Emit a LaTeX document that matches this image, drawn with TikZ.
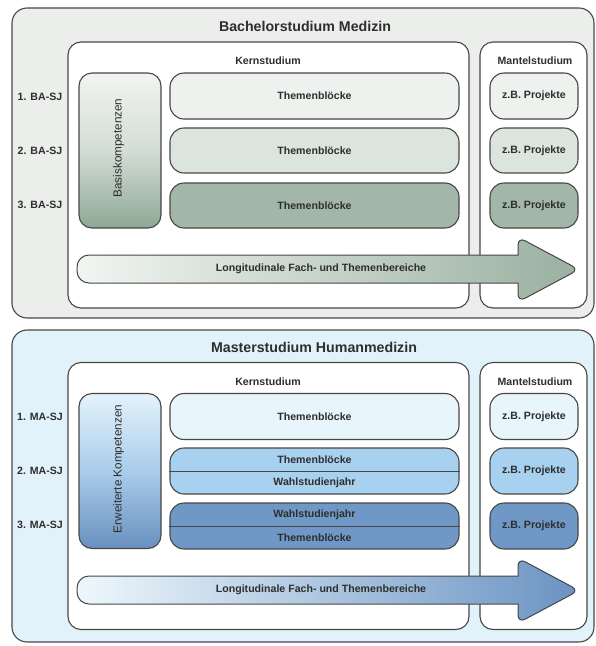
\documentclass[tikz,border=0pt]{standalone}
\usepackage{fontspec}
\setmainfont{Liberation Sans}
\definecolor{bordercol}{HTML}{474747}
\definecolor{txtcol}{HTML}{2E2E2E}
\definecolor{outerG}{HTML}{EBEEEB}
\definecolor{gA}{HTML}{EEF2EF}
\definecolor{gB}{HTML}{DCE5DD}
\definecolor{gC}{HTML}{A2B7A7}
\definecolor{gTop}{HTML}{F2F4F2}
\definecolor{gMid}{HTML}{D3DDD5}
\definecolor{gBot}{HTML}{8EA794}
\definecolor{gArrL}{HTML}{F2F5F2}
\definecolor{gArrM}{HTML}{BCCBBF}
\definecolor{gArrR}{HTML}{9AB0A0}
\definecolor{outerB}{HTML}{E2F2FB}
\definecolor{bA}{HTML}{E9F5FC}
\definecolor{bB}{HTML}{A8D1EF}
\definecolor{bC}{HTML}{6F98C6}
\definecolor{bTop}{HTML}{E4F2FB}
\definecolor{bMid}{HTML}{A9CDEA}
\definecolor{bBot}{HTML}{6990BF}
\definecolor{bArrL}{HTML}{EEF7FC}
\definecolor{bArrM}{HTML}{8DB5DC}
\definecolor{bArrR}{HTML}{6A93C2}
\tikzset{
  box/.style={draw=bordercol, line width=1.1pt, rounded corners=#1, inner sep=0pt},
  box/.default=13pt,
  lbl/.style={text=txtcol, font=\bfseries\fontsize{10.6}{12}\selectfont, inner sep=0pt},
  vlbl/.style={text=txtcol, font=\fontsize{11.7}{13}\selectfont, inner sep=0pt, rotate=90},
  ttl/.style={text=txtcol, font=\bfseries\fontsize{14.2}{16}\selectfont, inner sep=0pt},
  arrowline/.style={draw=bordercol, line width=1pt},
}
\begin{document}
\begin{tikzpicture}[x=1pt,y=-1pt]
\useasboundingbox (0,0) rectangle (596,646);

% ===================== Bachelor =====================
\node[box=15pt, fill=outerG, minimum width=582pt, minimum height=310pt] (bouter) at (303,163) {};
\node[ttl] (btitle) at (305,26) {Bachelorstudium Medizin};
\node[box=13pt, fill=white, minimum width=401pt, minimum height=266pt] (bkern) at (268.5,175) {};
\node[box=13pt, fill=white, minimum width=107pt, minimum height=266pt] (bmantel) at (533.5,175) {};
\node[lbl] (bkernl) at (268,61) {Kernstudium};
\node[lbl] (bmantell) at (535,61) {Mantelstudium};

\node[box, top color=gTop, bottom color=gBot, middle color=gMid, minimum width=82pt, minimum height=155pt] (bbasis) at (120,150.5) {};
\node[vlbl] (bbasist) at (118.5,148) {Basiskompetenzen};

\node[box=14pt, fill=gA, minimum width=289pt, minimum height=46pt] (brow1) at (314.5,96) {};
\node[box=14pt, fill=gB, minimum width=289pt, minimum height=45pt] (brow2) at (314.5,150.5) {};
\node[box=14pt, fill=gC, minimum width=289pt, minimum height=45pt] (brow3) at (314.5,205.5) {};
\node[lbl] (brow1t) at (brow1.center) {Themenblöcke};
\node[lbl] (brow2t) at (brow2.center) {Themenblöcke};
\node[lbl] (brow3t) at (brow3.center) {Themenblöcke};

\node[box=14pt, fill=gA, minimum width=88pt, minimum height=46pt] (bproj1) at (534,96) {};
\node[box=14pt, fill=gB, minimum width=88pt, minimum height=45pt] (bproj2) at (534,150.5) {};
\node[box=14pt, fill=gC, minimum width=88pt, minimum height=45pt] (bproj3) at (534,205.5) {};
\node[lbl] (bproj1t) at (bproj1.center) {z.B. Projekte};
\node[lbl] (bproj2t) at (bproj2.center) {z.B. Projekte};
\node[lbl] (bproj3t) at (bproj3.center) {z.B. Projekte};

\node[lbl] (bsj1) at (40,97) {1. BA-SJ};
\node[lbl] (bsj2) at (40,151) {2. BA-SJ};
\node[lbl] (bsj3) at (40,205) {3. BA-SJ};

\path[arrowline, left color=gArrL, middle color=gArrM, right color=gArrR]
  (300,255) [sharp corners] -- (518,255)
  [rounded corners=8pt] -- (518,237) -- (579,269.5) -- (518,302)
  [sharp corners] -- (518,283)
  [rounded corners=12pt] -- (77,283) -- (77,255)
  [sharp corners] -- cycle;
\node[lbl] (barrowt) at (321,269) {Longitudinale Fach- und Themenbereiche};

% ===================== Master =====================
\node[box=15pt, fill=outerB, minimum width=582pt, minimum height=312pt] (mouter) at (303,486) {};
\node[ttl] (mtitle) at (314,347) {Masterstudium Humanmedizin};
\node[box=13pt, fill=white, minimum width=401pt, minimum height=267pt] (mkern) at (268.5,496) {};
\node[box=13pt, fill=white, minimum width=107pt, minimum height=267pt] (mmantel) at (533.5,496) {};
\node[lbl] (mkernl) at (268,382) {Kernstudium};
\node[lbl] (mmantell) at (535,382) {Mantelstudium};

\node[box, top color=bTop, bottom color=bBot, middle color=bMid, minimum width=82pt, minimum height=155pt] (mbasis) at (120,471) {};
\node[vlbl] (mbasist) at (118.5,469) {Erweiterte Kompetenzen};

\node[box=14pt, fill=bA, minimum width=289pt, minimum height=46pt] (mrow1) at (314.5,416.5) {};
\node[box=14pt, fill=bB, minimum width=289pt, minimum height=46pt] (mrow2) at (314.5,471) {};
\node[box=14pt, fill=bC, minimum width=289pt, minimum height=46pt] (mrow3) at (314.5,526) {};
\draw[draw=bordercol, line width=1pt] (mrow2.west) -- (mrow2.east);
\draw[draw=bordercol, line width=1pt] (mrow3.west) -- (mrow3.east);
\node[lbl] (mrow1t) at (mrow1.center) {Themenblöcke};
\node[lbl] (mrow2a) at (314.5,459.5) {Themenblöcke};
\node[lbl] (mrow2b) at (314.5,482.5) {Wahlstudienjahr};
\node[lbl] (mrow3a) at (314.5,514.5) {Wahlstudienjahr};
\node[lbl] (mrow3b) at (314.5,537.5) {Themenblöcke};

\node[box=14pt, fill=bA, minimum width=88pt, minimum height=46pt] (mproj1) at (534,416.5) {};
\node[box=14pt, fill=bB, minimum width=88pt, minimum height=46pt] (mproj2) at (534,471) {};
\node[box=14pt, fill=bC, minimum width=88pt, minimum height=46pt] (mproj3) at (534,526) {};
\node[lbl] (mproj1t) at (mproj1.center) {z.B. Projekte};
\node[lbl] (mproj2t) at (mproj2.center) {z.B. Projekte};
\node[lbl] (mproj3t) at (mproj3.center) {z.B. Projekte};

\node[lbl] (msj1) at (40,417) {1. MA-SJ};
\node[lbl] (msj2) at (40,471) {2. MA-SJ};
\node[lbl] (msj3) at (40,525) {3. MA-SJ};

\path[arrowline, left color=bArrL, middle color=bArrM, right color=bArrR]
  (300,576) [sharp corners] -- (518,576)
  [rounded corners=8pt] -- (518,558) -- (579,590.5) -- (518,623)
  [sharp corners] -- (518,604)
  [rounded corners=12pt] -- (77,604) -- (77,576)
  [sharp corners] -- cycle;
\node[lbl] (marrowt) at (321,590) {Longitudinale Fach- und Themenbereiche};
\end{tikzpicture}
\end{document}
